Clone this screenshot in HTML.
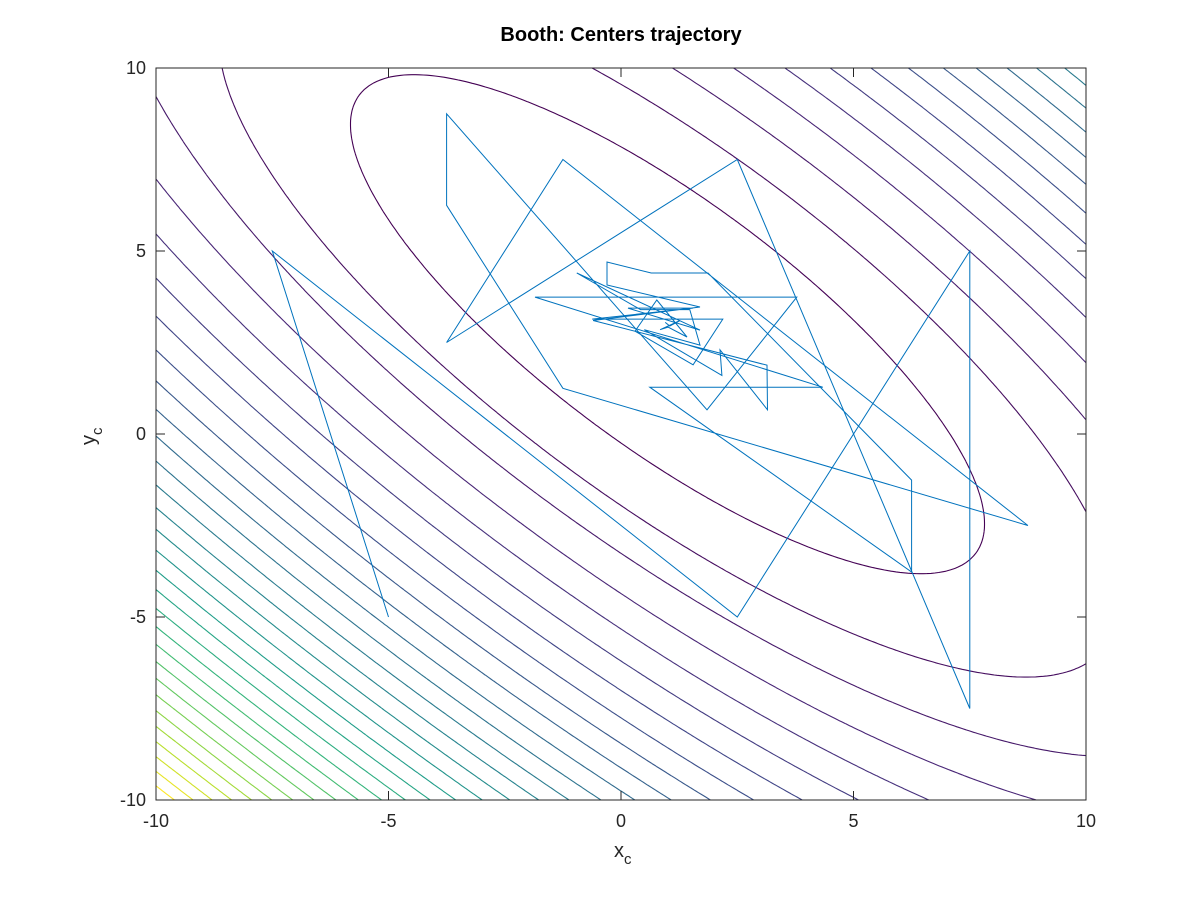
<!DOCTYPE html>
<html><head><meta charset="utf-8"><style>
html,body{margin:0;padding:0;background:#fff;}
svg{display:block;font-family:"Liberation Sans",sans-serif;}
</style></head><body>
<svg id="chart" width="1200" height="900" viewBox="0 0 1200 900" xmlns="http://www.w3.org/2000/svg">
<rect x="0" y="0" width="1200" height="900" fill="#fff"/>
<text x="621" y="41" text-anchor="middle" font-size="20" font-weight="bold" fill="#000">Booth: Centers trajectory</text>
<defs><clipPath id="clip"><rect x="156" y="68" width="930" height="732"/></clipPath></defs>
<g id="contours" clip-path="url(#clip)"></g>
<g id="traj" clip-path="url(#clip)"></g>
<g id="axes"></g>
<text x="614" y="857" font-size="20" fill="#262626">x<tspan font-size="15" dy="7">c</tspan></text>
<g transform="translate(95,445) rotate(-90)"><text x="0" y="0" font-size="20" fill="#262626">y<tspan font-size="15" dy="7">c</tspan></text></g>
</svg>
<script>
const xTicks=[-10,-5,0,5,10];
const yTicks=[-10,-5,0,5,10];
const trajX=[-5,-7.5,2.5,7.5,7.5,2.5,-3.75,-1.25,8.75,-1.25,-3.75,-3.75,1.85,3.78,-1.85,4.34,0.62,6.25,6.25,1.87,0.65,-0.3,-0.3,1.7,-0.6,3.14,3.15,2.13,2.17,0.5,1.7,1.48,0.42,-0.95,1.70,0.15,1.55,-0.62,2.19,1.55,0.3,0.77,1.42,1.01,0.84,1.27,1.05,0.95,1.0];
const trajY=[-5,5,-5,5,-7.5,7.5,2.5,7.5,-2.5,1.25,6.25,8.75,0.66,3.74,3.74,1.28,1.28,-3.77,-1.26,4.4,4.4,4.7,4.07,3.47,3.1,1.88,0.66,2.3,1.6,2.85,2.43,3.4,3.4,4.4,2.84,3.44,3.44,3.14,3.14,1.89,2.81,3.66,2.65,2.92,2.85,3.1,2.95,3.05,3.0];
const nLevels=30;
const X0=156,X1=1086,Y0=800,Y1=68;
const sx=v=>X0+(v+10)/20*(X1-X0);
const sy=v=>Y0-(v+10)/20*(Y0-Y1);
const NS="http://www.w3.org/2000/svg";
function booth(x,y){return (x+2*y-7)**2+(2*x+y-5)**2;}
const vir=[[68,1,84],[72,40,120],[62,74,137],[49,104,142],[38,130,142],[31,158,137],[53,183,121],[109,205,89],[180,222,44],[253,231,37]];
function cmap(t){t=Math.max(0,Math.min(1,t));const f=t*(vir.length-1);const i=Math.min(vir.length-2,Math.floor(f));const r=f-i;const c=vir[i].map((v,k)=>Math.round(v+(vir[i+1][k]-v)*r));return `rgb(${c[0]},${c[1]},${c[2]})`;}
const N=240;const Z=[];let zmax=-Infinity,zmin=Infinity;
for(let j=0;j<=N;j++){Z[j]=[];for(let i=0;i<=N;i++){const x=-10+20*i/N,y=-10+20*j/N;const z=booth(x,y);Z[j][i]=z;if(z>zmax)zmax=z;if(z<zmin)zmin=z;}}
const step=(zmax-zmin)/(nLevels+1);
const cg=document.getElementById('contours');
for(let k=1;k<=nLevels;k++){
  const L=zmin+k*step;let d="";
  const gx=i=>-10+20*i/N, gy=j=>-10+20*j/N;
  for(let j=0;j<N;j++)for(let i=0;i<N;i++){
    const a=Z[j][i],b=Z[j][i+1],c=Z[j+1][i+1],e=Z[j+1][i];
    const pts=[];
    const edge=(z1,z2,x1,y1,x2,y2)=>{if((z1<L)!==(z2<L)){const t=(L-z1)/(z2-z1);pts.push([x1+(x2-x1)*t,y1+(y2-y1)*t]);}};
    edge(a,b,gx(i),gy(j),gx(i+1),gy(j));
    edge(b,c,gx(i+1),gy(j),gx(i+1),gy(j+1));
    edge(c,e,gx(i+1),gy(j+1),gx(i),gy(j+1));
    edge(e,a,gx(i),gy(j+1),gx(i),gy(j));
    for(let p=0;p+1<pts.length;p+=2){d+=`M${sx(pts[p][0]).toFixed(1)} ${sy(pts[p][1]).toFixed(1)}L${sx(pts[p+1][0]).toFixed(1)} ${sy(pts[p+1][1]).toFixed(1)}`;}
  }
  const path=document.createElementNS(NS,'path');
  
  
  path.setAttribute('d',d);path.setAttribute('fill','none');
  path.setAttribute('stroke',cmap((k-1)/(nLevels-1)));path.setAttribute('stroke-width','1.1');
  cg.appendChild(path);
}
const tg=document.getElementById('traj');
const tp=document.createElementNS(NS,'polyline');


tp.setAttribute('points',trajX.map((x,i)=>sx(x).toFixed(1)+','+sy(trajY[i]).toFixed(1)).join(' '));
tp.setAttribute('fill','none');tp.setAttribute('stroke','#0072bd');tp.setAttribute('stroke-width','1');
tg.appendChild(tp);
const ag=document.getElementById('axes');
const box=document.createElementNS(NS,'rect');


box.setAttribute('x',X0);box.setAttribute('y',Y1);box.setAttribute('width',X1-X0);box.setAttribute('height',Y0-Y1);
box.setAttribute('fill','none');box.setAttribute('stroke','#262626');box.setAttribute('stroke-width','1');
ag.appendChild(box);
let td="";
xTicks.forEach(v=>{const x=sx(v);td+=`M${x} ${Y0}V${Y0-9}M${x} ${Y1}V${Y1+9}`;
  const t=document.createElementNS(NS,'text');
  
  
  t.setAttribute('x',x);t.setAttribute('y',Y0+27);t.setAttribute('text-anchor','middle');t.setAttribute('font-size','18');t.setAttribute('fill','#262626');t.textContent=v;ag.appendChild(t);});
yTicks.forEach(v=>{const y=sy(v);td+=`M${X0} ${y}H${X0+9}M${X1} ${y}H${X1-9}`;
  const t=document.createElementNS(NS,'text');
  
  
  t.setAttribute('x',X0-10);t.setAttribute('y',y+6);t.setAttribute('text-anchor','end');t.setAttribute('font-size','18');t.setAttribute('fill','#262626');t.textContent=v;ag.appendChild(t);});
const tk=document.createElementNS(NS,'path');


tk.setAttribute('d',td);tk.setAttribute('stroke','#262626');tk.setAttribute('stroke-width','1');
ag.appendChild(tk);
</script>
</body></html>
